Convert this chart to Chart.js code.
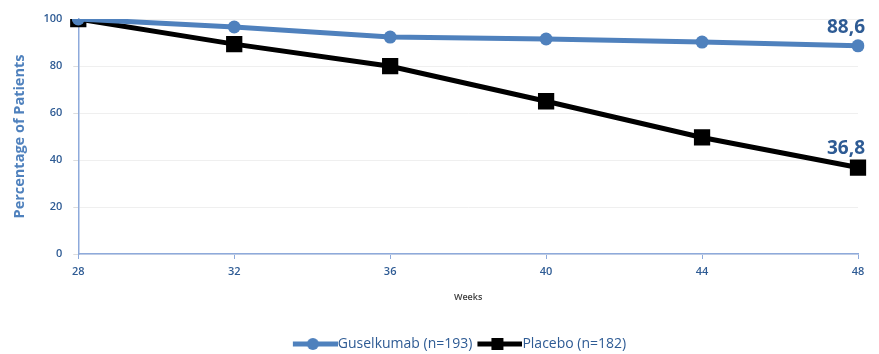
<!DOCTYPE html>
<html>
<head>
<meta charset="utf-8">
<script src="https://cdn.jsdelivr.net/npm/chart.js@4.4.1/dist/chart.umd.min.js"></script>
<style>
  html, body { margin: 0; padding: 0; background: #fff; }
  #wrap { width: 879px; height: 354px; position: relative; }
</style>
</head>
<body>
<div id="wrap"><canvas id="myChart"></canvas></div>
<script>
// week labels on the x axis
const weeks = ['28', '32', '36', '40', '44', '48'];
// percentage of patients maintaining response
const guselkumab = [100, 96.6, 92.3, 91.5, 90.2, 88.6];
const placebo = [100, 89.3, 79.9, 65.0, 49.6, 36.8];
const seriesNames = ['Guselkumab (n=193)', 'Placebo (n=182)'];

const blue = '#4f81bd';
const textBlue = '#2e5b94';
const fontFam = "'Open Sans', 'Noto Sans', sans-serif";

// legend icon: line with marker, padded on the left so it touches the text
function legendIcon(color, shape) {
    const c = document.createElement('canvas');
    c.width = 52; c.height = 14;
    const g = c.getContext('2d');
    g.strokeStyle = color;
    g.lineWidth = 5;
    g.beginPath(); g.moveTo(7, 7); g.lineTo(52, 7); g.stroke();
    g.fillStyle = color;
    if (shape === 'circle') {
        g.beginPath(); g.arc(27, 7, 6, 0, Math.PI * 2); g.fill();
    } else {
        g.fillRect(21, 1, 12, 12);
    }
    return c;
}

// value labels on the last point of each line
const lastLabel = {
    id: 'lastLabel',
    afterLayout(chart) {
        // legend sits a bit right of the canvas centre in the original
        if (chart.legend) {
            chart.legend.left += 27;
            chart.legend.right += 27;
        }
    },
    afterDatasetsDraw(chart) {
        const ctx = chart.ctx;
        ctx.save();
        ctx.font = 'bold 19px ' + fontFam;
        ctx.fillStyle = textBlue;
        ctx.textAlign = 'center';
        ctx.textBaseline = 'bottom';
        chart.data.datasets.forEach((ds, i) => {
            const meta = chart.getDatasetMeta(i);
            const pt = meta.data[meta.data.length - 1];
            const v = ds.data[ds.data.length - 1];
            ctx.fillText(v.toFixed(1).replace('.', ','), pt.x - 12, pt.y - 9);
        });
        ctx.restore();
    }
};

const ctx = document.getElementById('myChart').getContext('2d');
const myChart = new Chart(ctx, {
    type: 'line',
    data: {
        labels: weeks,
        datasets: [{
            label: seriesNames[0],
            data: guselkumab,
            borderColor: blue,
            backgroundColor: blue,
            borderWidth: 5,
            pointStyle: 'circle',
            pointRadius: 6.5,
            pointBorderWidth: 0
        }, {
            label: seriesNames[1],
            data: placebo,
            borderColor: '#000',
            backgroundColor: '#000',
            borderWidth: 5,
            pointStyle: 'rect',
            pointRadius: 11.5,
            pointBorderWidth: 0
        }]
    },
    options: {
        responsive: true,
        maintainAspectRatio: false,
        animation: false,
        layout: { padding: { top: 19, right: 21, left: 7, bottom: -7 } },
        plugins: {
            tooltip: { enabled: false },
            legend: {
                position: 'bottom',
                labels: {
                    color: textBlue,
                    font: { family: fontFam, size: 14 },
                    usePointStyle: true,
                    pointStyleWidth: 38,
                    padding: 5,
                    generateLabels(chart) {
                        return chart.data.datasets.map((ds, i) => ({
                            text: ds.label,
                            fontColor: textBlue,
                            pointStyle: legendIcon(ds.borderColor, i === 0 ? 'circle' : 'rect'),
                            datasetIndex: i,
                            lineWidth: 0,
                            hidden: false
                        }));
                    }
                }
            }
        },
        scales: {
            x: {
                offset: false,
                border: { color: '#8eaadb', width: 1.5 },
                grid: { drawOnChartArea: false, tickColor: '#8eaadb', tickLength: 5 },
                ticks: { color: textBlue, font: { family: fontFam, size: 11, weight: '600' }, padding: 6 },
                title: {
                    display: true,
                    text: 'Weeks',
                    color: '#404040',
                    font: { family: fontFam, size: 9, weight: '600' },
                    padding: { top: 8, bottom: 29 }
                }
            },
            y: {
                min: 0,
                max: 100,
                border: { color: '#8eaadb', width: 1.5 },
                grid: { color: '#efefef', tickColor: '#dddddd', tickLength: 5 },
                ticks: { stepSize: 20, color: textBlue, font: { family: fontFam, size: 11, weight: '600' }, padding: 11 },
                title: {
                    display: true,
                    text: 'Percentage of Patients',
                    color: blue,
                    font: { family: fontFam, size: 14.5, weight: 'bold' },
                    padding: { top: 4, bottom: 4 }
                }
            }
        }
    },
    plugins: [lastLabel]
});
</script>
</body>
</html>
